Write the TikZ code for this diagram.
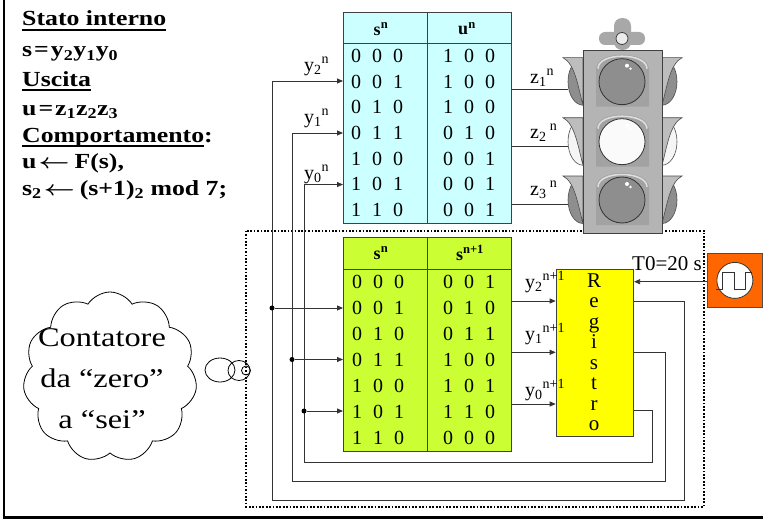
\documentclass[tikz,border=0pt]{standalone}
\usepackage{fontspec}
\setmainfont{Liberation Serif}
\newfontfamily\widefont{Liberation Serif}[FakeStretch=1.2]
\usetikzlibrary{shapes.symbols,arrows.meta}

\definecolor{cyanfill}{HTML}{CCFFFF}
\definecolor{limefill}{HTML}{CCFF33}
\definecolor{regfill}{HTML}{FFFF00}
\definecolor{clkfill}{HTML}{FF6600}
\definecolor{tlbody}{HTML}{B4B4B4}
\definecolor{tlhood}{HTML}{A2A2A2}
\definecolor{tllamp}{HTML}{8E8E8E}
\definecolor{tlknob}{HTML}{A8A8A8}
\definecolor{tlflap}{HTML}{BDBDBD}
\definecolor{wirec}{HTML}{333333}

\newcommand\bits[3]{#1\hspace{11pt}#2\hspace{11pt}#3}
% underlined heading
\newcommand\ulhead[1]{\leavevmode\setbox0\hbox{#1}\rlap{\rule[-4.8pt]{\wd0}{1.7pt}}\box0}
% assignment arrow
\newcommand\getsarrow{\kern2pt\scalebox{1.3}[1]{\boldmath$\leftarrow$}\kern5pt}

% one lamp of the traffic light: #1 centre y, #2 lens colour, #3 wing colour
\newcommand\lampunit[3]{%
  \begin{scope}[shift={(0,#1)}]
    \draw[fill=#3, draw=black!70, line width=0.6pt] (583,0) ellipse [x radius=15, y radius=23.5];
    \draw[fill=#3, draw=black!70, line width=0.6pt] (662,0) ellipse [x radius=15, y radius=23.5];
    \draw[fill=tlflap, draw=black!70, line width=0.6pt] (563,-24) -- (583,-24) -- (583,23.5)
      .. controls (578,5) and (575,-18) .. cycle;
    \draw[fill=tlflap, draw=black!70, line width=0.6pt] (682,-24) -- (662,-24) -- (662,23.5)
      .. controls (667,5) and (670,-18) .. cycle;
  \end{scope}}
\newcommand\lampface[2]{%
  \begin{scope}[shift={(0,#1)}]
    \fill[tlhood] (596,25) -- (596,-12) .. controls (596,-22) and (608,-27) .. (622,-27)
      .. controls (636,-27) and (649,-22) .. (649,-12) -- (649,25) -- cycle;
    \draw[white!75!gray, line width=1.5pt] (598,-13) .. controls (598,-21) and (609,-25.5) .. (622,-25.5)
      .. controls (635,-25.5) and (647,-21) .. (647,-13);
    \draw[fill=#2, draw=black!80, line width=0.8pt] (622,0) circle (23);
    \fill[white] (627,-16) circle (2);
    \fill[white] (630.5,-13) circle (1.3);
  \end{scope}}

\begin{document}
\begin{tikzpicture}[x=1pt,y=-1pt,
  tabbox/.style={draw=black!75, line width=0.8pt, inner sep=0, anchor=north west},
  cell/.style={inner sep=0, font=\fontsize{20}{24}\selectfont},
  regletter/.style={inner sep=0, anchor=base, font=\fontsize{21}{24}\selectfont},
  hdr/.style={inner sep=0, font=\fontsize{18}{22}\selectfont\bfseries},
  lbl/.style={inner sep=0, anchor=base west, font=\fontsize{20}{24}\selectfont},
  headtxt/.style={inner sep=0, anchor=base west, font=\widefont\fontsize{21.5}{25}\selectfont\bfseries},
  wire/.style={draw=wirec, line width=0.8pt},
  feed/.style={wire, -{Triangle[length=6pt,width=5pt]}},
  junction/.style={circle, fill=black, inner sep=0, minimum size=5pt},
  region/.style={draw=black, line width=1.7pt, dash pattern=on 1.7pt off 1.7pt}]
\useasboundingbox (0,0) rectangle (763,519);

% frame
\draw[line width=2.7pt] (4,0) -- (4,517.7) -- (763,517.7);

% sequential part
\draw[region] (246,230.7) rectangle (704,506.7);

% description
\node[headtxt] (h1) at (22,26) {\ulhead{Stato interno}};
\node[headtxt] (f1) at (22,57) {s\kern2pt=\kern2pt y\textsubscript{2}y\textsubscript{1}y\textsubscript{0}};
\node[headtxt] (h2) at (22,86) {\ulhead{Uscita}};
\node[headtxt] (f2) at (22,115) {u\kern2pt=\kern2pt z\textsubscript{1}z\textsubscript{2}z\textsubscript{3}};
\node[headtxt] (h3) at (22,142) {\ulhead{Comportamento}:};
\node[headtxt] (f3) at (22,168) {u\getsarrow F(s),};
\node[headtxt] (f4) at (22,195) {s\textsubscript{2}\getsarrow(s+1)\textsubscript{2} mod 7;};

% output table
\node[tabbox, fill=cyanfill, minimum width=168pt, minimum height=211pt] (tabU) at (343,12) {};
\draw[tabbox] (tabU.north west) ++(0,31) -- ++(168,0);
\draw[tabbox] (tabU.north) -- (tabU.south);
\node[hdr] (hU1) at (381,29) {s\textsuperscript{n}};
\node[hdr] (hU2) at (467,29) {u\textsuperscript{n}};
\foreach \a/\b/\c/\d/\e/\f [count=\i] in
  {0/0/0/1/0/0, 0/0/1/1/0/0, 0/1/0/1/0/0, 0/1/1/0/1/0, 1/0/0/0/0/1, 1/0/1/0/0/1, 1/1/0/0/0/1}{
  \node[cell] (us\i) at (377,{43+25.71*(\i-0.5)}) {\bits{\a}{\b}{\c}};
  \node[cell] (uo\i) at (469,{43+25.71*(\i-0.5)}) {\bits{\d}{\e}{\f}};
}

% next state table
\node[tabbox, fill=limefill, minimum width=168pt, minimum height=214pt] (tabS) at (343,236.7) {};
\draw[tabbox] (tabS.north west) ++(0,32.6) -- ++(168,0);
\draw[tabbox] (tabS.north) -- (tabS.south);
\node[hdr] (hS1) at (381,253) {s\textsuperscript{n}};
\node[hdr] (hS2) at (470,253) {s\textsuperscript{n+1}};
\foreach \a/\b/\c/\d/\e/\f [count=\i] in
  {0/0/0/0/0/1, 0/0/1/0/1/0, 0/1/0/0/1/1, 0/1/1/1/0/0, 1/0/0/1/0/1, 1/0/1/1/1/0, 1/1/0/0/0/0}{
  \node[cell] (ss\i) at (378,{269.3+25.91*(\i-0.5)}) {\bits{\a}{\b}{\c}};
  \node[cell] (sn\i) at (469,{269.3+25.91*(\i-0.5)}) {\bits{\d}{\e}{\f}};
}

% register
\node[tabbox, fill=regfill, minimum width=77.6pt, minimum height=167pt] (reg) at (555.7,269) {};
\foreach \ch [count=\i from 0] in {R,e,g,i,s,t,r,o}
  \node[regletter] (rl\i) at (594,{287+20.5*\i}) {\ch};

% clock
\node[draw=black!70, line width=0.8pt, fill=clkfill, inner sep=0, anchor=north west,
  minimum width=54.4pt, minimum height=54.6pt] (clk) at (707.3,252.7) {};
\draw[fill=white, draw=black!80, line width=0.8pt] (clk.center) circle (18);
\draw[wirec, line width=0.9pt] (716,289) -- (722,289) -- (722,272) -- (734,272) -- (734,289)
  -- (745,289) -- (745,272) -- (752,272);
\node[lbl, font=\fontsize{21}{24}\selectfont] (tlab) at (632,270) {T0=20 s};
\draw[feed] (clk.west |- 0,281.7) -- (reg.east |- 0,281.7);

% state bus: register outputs back to both tables
\coordinate (b2) at (272,500.7);
\coordinate (b1) at (292,481.7);
\coordinate (b0) at (304,462);
\draw[feed] (reg.east |- 0,301) -| (684,500.7) -- (b2) -- (b2 |- 0,81) -- (tabU.west |- 0,81);
\draw[feed] (reg.east |- 0,352.3) -| (665,481.7) -- (b1) -- (b1 |- 0,133) -- (tabU.west |- 0,133);
\draw[feed] (reg.east |- 0,410.7) -| (652,462) -- (b0) -- (b0 |- 0,184.5) -- (tabU.west |- 0,184.5);
\node[junction] (j2) at (b2 |- 0,308) {};
\node[junction] (j1) at (b1 |- 0,359.5) {};
\node[junction] (j0) at (b0 |- 0,411) {};
\draw[feed] (j2) -- (tabS.west |- j2);
\draw[feed] (j1) -- (tabS.west |- j1);
\draw[feed] (j0) -- (tabS.west |- j0);
\node[lbl] (ly2) at (304,71) {y\textsubscript{2}\textsuperscript{n}};
\node[lbl] (ly1) at (304,123) {y\textsubscript{1}\textsuperscript{n}};
\node[lbl] (ly0) at (304,179) {y\textsubscript{0}\textsuperscript{n}};

% next state into the register
\draw[feed] (tabS.east |- 0,301) -- (reg.west |- 0,301);
\draw[feed] (tabS.east |- 0,352.3) -- (reg.west |- 0,352.3);
\draw[feed] (tabS.east |- 0,404) -- (reg.west |- 0,404);
\node[lbl] (ln2) at (525,288) {y\textsubscript{2}\textsuperscript{n+1}};
\node[lbl] (ln1) at (525,340) {y\textsubscript{1}\textsuperscript{n+1}};
\node[lbl] (ln0) at (525,396) {y\textsubscript{0}\textsuperscript{n+1}};

% traffic light
\lampunit{81.7}{tllamp}{tllamp}
\lampunit{141.7}{white}{white!96!black}
\lampunit{200}{tllamp}{tllamp}
\fill[tlknob, rounded corners=6pt] (599,32) rectangle (645,45);
\fill[tlknob, rounded corners=8pt] (614,18) rectangle (631,50);
\node[draw=black!75, line width=0.8pt, fill=tlbody, inner sep=0, anchor=north west,
  minimum width=78.4pt, minimum height=183pt] (light) at (583.3,50) {};
\draw[fill=white!85!gray, draw=black!75, line width=0.8pt] (622,38.5) circle (6);
\lampface{81.7}{tllamp}
\lampface{141.7}{white!98!black}
\lampface{200}{tllamp}

% outputs to the lamps
\coordinate (z1) at (568,89);
\coordinate (z2) at (568,146);
\coordinate (z3) at (568,204.3);
\draw[wire] (tabU.east |- z1) -- (z1);
\draw[wire] (tabU.east |- z2) -- (z2);
\draw[wire] (tabU.east |- z3) -- (z3);
\node[lbl] (lz1) at (530,83) {z\textsubscript{1}\textsuperscript{n}};
\node[lbl] (lz2) at (530,138) {z\textsubscript{2}\,\textsuperscript{n}};
\node[lbl] (lz3) at (530,195) {z\textsubscript{3}\,\textsuperscript{n}};

% thought cloud
\node[cloud, draw, line width=0.8pt, cloud puffs=11, cloud puff arc=115, cloud ignores aspect,
  minimum width=174pt, minimum height=170pt, inner sep=0] (cloud) at (110,377) {};
\node[inner sep=0, align=center, font=\widefont\fontsize{27}{41}\selectfont] (ctext) at (102,379)
  {Contatore\\da “zero”\\a “sei”};
\draw[line width=0.8pt] (220,370) ellipse [x radius=15, y radius=12];
\draw[line width=0.8pt] (239,370.5) ellipse [x radius=11, y radius=10];
\draw[line width=0.8pt] (246,370.5) circle (4.5);
\end{tikzpicture}
\end{document}
